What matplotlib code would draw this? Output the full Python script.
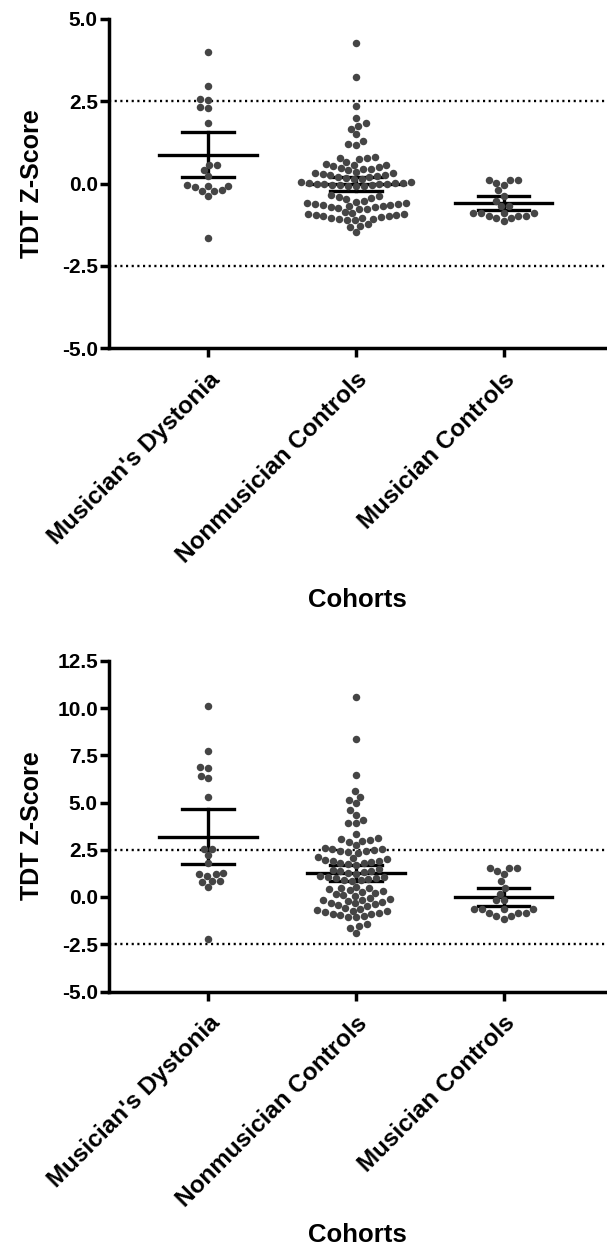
import matplotlib
matplotlib.use("Agg")
import matplotlib.pyplot as plt
import pandas as pd
import seaborn as sns

plt.rcParams['font.family'] = ['Liberation Sans', 'DejaVu Sans']
plt.rcParams['font.weight'] = 'bold'
plt.rcParams['axes.unicode_minus'] = False

cohorts = ["Musician's Dystonia", "Nonmusician Controls", "Musician Controls"]

# ---- panel 1 (top) ----
md_1 = [4.01, 2.96, 2.57, 2.53, 2.33, 2.28, 1.83, 0.57, 0.57, 0.41, 0.22,
        -0.04, -0.08, -0.08, -0.12, -0.20, -0.24, -0.22, -0.37, -1.65]
nmc_1 = [4.26, 3.24, 2.37, 1.98, 1.84, 1.75, 1.67, 1.49, 1.28, 1.19, 1.17,
         0.80, 0.78, 0.76, 0.74,
         0.64, 0.60, 0.57, 0.55, 0.53, 0.50, 0.48, 0.45, 0.43, 0.41,
         0.35, 0.33, 0.31, 0.29, 0.27, 0.25, 0.23, 0.21, 0.19, 0.17, 0.15, 0.13,
         0.06, 0.04, 0.03, 0.02, 0.01, 0.00, -0.01, -0.02, -0.03, -0.04, -0.05,
         -0.06, -0.07, -0.08, -0.09,
         -0.36, -0.38, -0.41, -0.44, -0.48, -0.52,
         -0.56, -0.58, -0.60, -0.62, -0.63, -0.65, -0.66, -0.68, -0.69, -0.71,
         -0.72, -0.74, -0.76, -0.78,
         -0.88, -0.90, -0.92, -0.94, -0.95, -0.97, -0.99, -1.00, -1.02, -1.04,
         -1.05, -1.07, -1.09, -1.10, -1.12,
         -1.24, -1.28, -1.32, -1.47]
mc_1 = [0.10, 0.02, 0.10, 0.10, -0.05, -0.20, -0.37, -0.53, -0.69, -0.69,
        -0.91, -0.91, -0.99, -1.06, -1.14, -1.06, -0.99, -0.99, -0.91, -0.91]
mean_1 = [0.87, 0.0, -0.60]
ci_lo_1 = [0.19, -0.22, -0.82]
ci_hi_1 = [1.56, 0.21, -0.39]
yticks_1 = [-5.0, -2.5, 0.0, 2.5, 5.0]

# ---- panel 2 (bottom) ----
md_2 = [10.1, 7.72, 6.80, 6.89, 6.27, 6.39, 5.27, 2.55, 2.55, 2.21, 1.81,
        1.21, 1.12, 1.21, 1.28, 0.85, 0.77, 0.85, 0.52, -2.20]
nmc_2 = [10.6, 8.35, 6.45, 5.62, 5.30, 5.12, 4.95, 4.60, 4.33, 4.10, 3.92, 3.92,
         3.32, 3.10, 3.06, 3.01, 2.97, 2.92, 2.74,
         2.58, 2.55, 2.52, 2.50, 2.46, 2.42, 2.38, 2.33,
         2.12, 2.06, 2.00, 1.96, 1.92, 1.90, 1.86, 1.82, 1.78, 1.74, 1.70,
         1.50, 1.45, 1.40, 1.36, 1.32, 1.28, 1.24,
         1.12, 1.08, 1.04, 1.00, 0.98, 0.95, 0.92, 0.89, 0.86,
         0.55, 0.50, 0.45, 0.40, 0.35, 0.30, 0.26, 0.22, 0.18, 0.12, 0.06,
         -0.05, -0.10, -0.14, -0.18, -0.22, -0.26, -0.30, -0.34, -0.38, -0.42, -0.46,
         -0.60, -0.64, -0.68, -0.72, -0.76, -0.80, -0.84, -0.88, -0.92, -0.96,
         -1.00, -1.04, -1.08,
         -1.45, -1.52, -1.62, -1.88]
mc_2 = [1.51, 1.38, 1.51, 1.51, 1.21, 0.85, 0.50, 0.18, -0.17, -0.17,
        -0.66, -0.66, -0.84, -1.02, -1.14, -1.02, -0.84, -0.84, -0.66, -0.66]
mean_2 = [3.18, 1.27, 0.0]
ci_lo_2 = [1.72, 0.85, -0.47]
ci_hi_2 = [4.68, 1.68, 0.48]
yticks_2 = [-5.0, -2.5, 0.0, 2.5, 5.0, 7.5, 10.0, 12.5]

cutoff = 2.5
dot_color = '#454545'


def draw_panel(ax, groups, means, lo, hi, yticks, xlabel_y):
    df = pd.DataFrame({
        'cohort': sum([[c] * len(g) for c, g in zip(cohorts, groups)], []),
        'z': sum([list(g) for g in groups], []),
    })
    sns.swarmplot(data=df, x='cohort', y='z', order=cohorts, ax=ax,
                  color=dot_color, size=5.4, linewidth=0, zorder=4)

    # mean with 95% CI
    for i in range(len(cohorts)):
        ax.plot([i - 0.33, i + 0.33], [means[i], means[i]], color='black', lw=2.4, zorder=3)
        ax.plot([i, i], [lo[i], hi[i]], color='black', lw=2.4, zorder=3)
        for v in (lo[i], hi[i]):
            ax.plot([i - 0.175, i + 0.175], [v, v], color='black', lw=2.4, zorder=3)

    for v in (cutoff, -cutoff):
        ax.axhline(v, color='black', lw=1.7, linestyle=(0, (0.9, 1.5)), zorder=2)

    ax.set_xlim(-0.67, 2.7)
    ax.set_ylim(yticks[0], yticks[-1])
    ax.set_yticks(yticks)
    ax.set_yticklabels([f"{t:.1f}" for t in yticks], fontsize=15, fontweight='bold')
    ax.set_xticks(range(len(cohorts)))
    ax.set_xticklabels(cohorts, rotation=45, ha='right', va='top',
                       rotation_mode='anchor', fontsize=17.5, fontweight='bold')

    for s in ('top', 'right'):
        ax.spines[s].set_visible(False)
    for s in ('left', 'bottom'):
        ax.spines[s].set_linewidth(2.5)
    ax.tick_params(axis='both', width=2.5, length=6.5, pad=1.5)
    ax.tick_params(axis='x', pad=8)

    ax.set_ylabel('TDT Z-Score', fontsize=18, fontweight='bold')
    ax.yaxis.set_label_coords(-0.13, 0.5)
    ax.set_xlabel('Cohorts', fontsize=18.5, fontweight='bold')
    ax.xaxis.set_label_coords(0.498, xlabel_y)


fig = plt.figure(figsize=(6.07, 12.5), dpi=100)
ax1 = fig.add_axes([0.1796, 0.7216, 0.8204, 0.2632])
ax2 = fig.add_axes([0.1796, 0.2068, 0.8204, 0.2646])

draw_panel(ax1, [md_1, nmc_1, mc_1], mean_1, ci_lo_1, ci_hi_1, yticks_1, -0.73)
draw_panel(ax2, [md_2, nmc_2, mc_2], mean_2, ci_lo_2, ci_hi_2, yticks_2, -0.70)

fig.savefig('out.png', dpi=100)
